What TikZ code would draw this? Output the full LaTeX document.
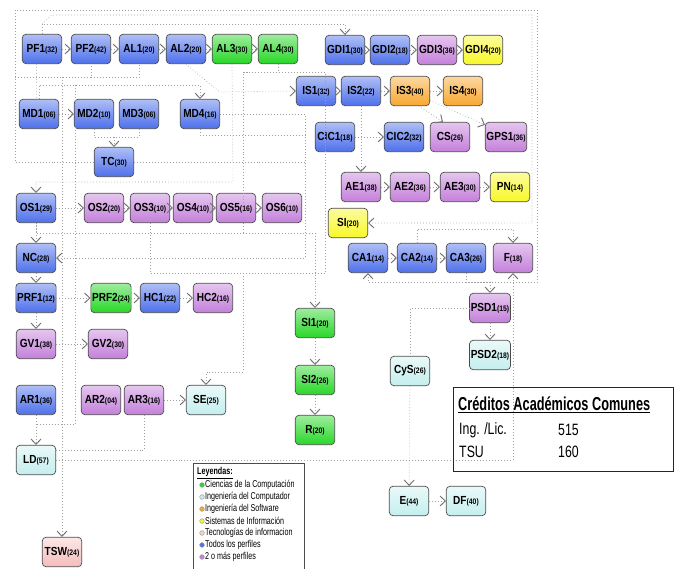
\documentclass[tikz,border=0pt]{standalone}
\usepackage{fontspec}
\setmainfont{Liberation Sans}
\usepackage{graphicx}
\definecolor{ucblue}{RGB}{78,112,235}
\definecolor{ucgreen}{RGB}{40,215,40}
\definecolor{ucviolet}{RGB}{196,128,218}
\definecolor{ucyellow}{RGB}{248,248,40}
\definecolor{ucorange}{RGB}{248,168,48}
\definecolor{uccyan}{RGB}{196,238,238}
\definecolor{ucpink}{RGB}{244,188,188}
\definecolor{ucpeach}{RGB}{246,214,180}
\usetikzlibrary{arrows.meta,positioning,calc}

\newcommand{\modlab}[2]{\scalebox{0.86}[1]{#1{\fontsize{6.8}{7}\selectfont(#2)}}}

\begin{document}
\begin{tikzpicture}[x=0.03cm,y=-0.03cm,
  course/.style={draw=black!70,line width=0.6pt,rounded corners=3pt,
    minimum width=1.18cm,minimum height=0.88cm,inner sep=1pt,
    font=\bfseries\fontsize{10}{11}\selectfont},
  cblue/.style={course,top color=ucblue!45!white,bottom color=ucblue},
  cgreen/.style={course,top color=ucgreen!45!white,bottom color=ucgreen},
  cviolet/.style={course,top color=ucviolet!45!white,bottom color=ucviolet},
  cyellow/.style={course,top color=ucyellow!45!white,bottom color=ucyellow},
  corange/.style={course,top color=ucorange!45!white,bottom color=ucorange},
  ccyan/.style={course,top color=uccyan!35!white,bottom color=uccyan},
  cpink/.style={course,top color=ucpink!35!white,bottom color=ucpink},
  link/.style={gray!75,dotted,line width=0.55pt,
    -{Straight Barb[length=4.5pt,width=8.5pt,line width=0.8pt,color=black!55]}},
  route/.style={gray!75,dotted,line width=0.55pt},
  legdot/.style={circle,draw=black!40,inner sep=0pt,minimum size=4pt},
  legtext/.style={anchor=west,inner sep=0pt,font=\fontsize{8.5}{9}\selectfont}
]
  \useasboundingbox (0,0) rectangle (679,569);

  % Row 1: PF / AL / GDI
  \node[cblue] (pf1) at (42,49) {\modlab{PF1}{32}};
  \node[cblue] (pf2) at (91,49) {\modlab{PF2}{42}};
  \node[cblue] (al1) at (139,49) {\modlab{AL1}{20}};
  \node[cblue] (al2) at (186,49) {\modlab{AL2}{20}};
  \node[cgreen] (al3) at (232,49) {\modlab{AL3}{30}};
  \node[cgreen] (al4) at (278,49) {\modlab{AL4}{30}};
  \node[cblue] (gdi1) at (345,50) {\modlab{GDI1}{30}};
  \node[cblue] (gdi2) at (390,50) {\modlab{GDI2}{18}};
  \node[cviolet] (gdi3) at (437,50) {\modlab{GDI3}{36}};
  \node[cyellow] (gdi4) at (483,50) {\modlab{GDI4}{20}};

  % MD / TC
  \node[cblue] (md1) at (39,114) {\modlab{MD1}{06}};
  \node[cblue] (md2) at (94,114) {\modlab{MD2}{10}};
  \node[cblue] (md3) at (139,114) {\modlab{MD3}{06}};
  \node[cblue] (md4) at (200,114) {\modlab{MD4}{16}};
  \node[cblue] (tc) at (114,162) {\modlab{TC}{30}};

  % Right block: IS / CIC / AE / CA
  \node[cblue] (is1) at (316,91) {\modlab{IS1}{32}};
  \node[cblue] (is2) at (361,91) {\modlab{IS2}{22}};
  \node[corange] (is3) at (410,91) {\modlab{IS3}{40}};
  \node[corange] (is4) at (463,91) {\modlab{IS4}{30}};
  \node[cblue] (cic1) at (335,137) {\modlab{CIC1}{18}};
  \node[cblue] (cic2) at (404,137) {\modlab{CIC2}{32}};
  \node[cviolet] (cs) at (450,137) {\modlab{CS}{26}};
  \node[cviolet] (gps1) at (506,137) {\modlab{GPS1}{36}};
  \node[cviolet] (ae1) at (361,187) {\modlab{AE1}{38}};
  \node[cviolet] (ae2) at (410,187) {\modlab{AE2}{36}};
  \node[cviolet] (ae3) at (460,187) {\modlab{AE3}{30}};
  \node[cyellow] (pn) at (510,187) {\modlab{PN}{14}};
  \node[cyellow] (si) at (348,223) {\modlab{SI}{20}};
  \node[cblue] (ca1) at (368,258) {\modlab{CA1}{14}};
  \node[cblue] (ca2) at (417,258) {\modlab{CA2}{14}};
  \node[cblue] (ca3) at (466,258) {\modlab{CA3}{26}};
  \node[cviolet] (f) at (513,258) {\modlab{F}{18}};
  \node[cviolet] (psd1) at (490,308) {\modlab{PSD1}{15}};
  \node[ccyan] (psd2) at (490,355) {\modlab{PSD2}{18}};
  \node[ccyan] (cys) at (410,371) {\modlab{CyS}{26}};
  \node[ccyan] (e) at (409,501) {\modlab{E}{44}};
  \node[ccyan] (df) at (466,501) {\modlab{DF}{40}};
  \node[cgreen] (si1) at (315,323) {\modlab{SI1}{20}};
  \node[cgreen] (si2) at (315,380) {\modlab{SI2}{26}};
  \node[cgreen] (r) at (315,430) {\modlab{R}{20}};

  % Left block: OS / NC / PRF / GV / AR
  \node[cblue] (os1) at (36,208) {\modlab{OS1}{29}};
  \node[cviolet] (os2) at (104,208) {\modlab{OS2}{20}};
  \node[cviolet] (os3) at (150,208) {\modlab{OS3}{10}};
  \node[cviolet] (os4) at (193,208) {\modlab{OS4}{10}};
  \node[cviolet] (os5) at (236,208) {\modlab{OS5}{16}};
  \node[cviolet] (os6) at (282,208) {\modlab{OS6}{10}};
  \node[cblue] (nc) at (36,258) {\modlab{NC}{28}};
  \node[cblue] (prf1) at (36,298) {\modlab{PRF1}{12}};
  \node[cgreen] (prf2) at (111,298) {\modlab{PRF2}{24}};
  \node[cblue] (hc1) at (160,298) {\modlab{HC1}{22}};
  \node[cviolet] (hc2) at (213,298) {\modlab{HC2}{16}};
  \node[cviolet] (gv1) at (36,344) {\modlab{GV1}{38}};
  \node[cviolet] (gv2) at (108,344) {\modlab{GV2}{30}};
  \node[cblue] (ar1) at (36,400) {\modlab{AR1}{36}};
  \node[cviolet] (ar2) at (101,400) {\modlab{AR2}{04}};
  \node[cviolet] (ar3) at (144,400) {\modlab{AR3}{16}};
  \node[ccyan] (se) at (206,400) {\modlab{SE}{25}};
  \node[ccyan] (ld) at (36,460) {\modlab{LD}{57}};
  \node[cpink] (tsw) at (62,552) {\modlab{TSW}{24}};

  % Junctions of the dotted routes
  \coordinate (jtop) at (42,24);
  \coordinate (jleft) at (15,77);
  \coordinate (jmd) at (39,85);
  \coordinate (jtc) at (114,137);
  \coordinate (jbus) at (243,72);
  \coordinate (jos) at (233,182);
  \coordinate (jsi) at (243,233);
  \coordinate (jmid) at (305,114);
  \coordinate (jmd4) at (305,135);
  \coordinate (jse) at (243,273);
  \coordinate (jar) at (75,424);
  \coordinate (jld) at (144,450);
  \coordinate (jf) at (513,229);
  \coordinate (jpsd) at (490,282);

  % Frames round the plan
  \draw[link] (tc.west) -- (15,162) -- (15,10) -- (537,10) -- (537,282) -| (ca1.south);
  \draw[link] (pf1.north) -- (jtop) -| (gdi1.north);
  \draw[link] (jtop) -- (52,15) -- (532,15) |- (si.east);

  % Straight chains
  \draw[link] (pf1) -- (pf2);
  \draw[link] (pf2) -- (al1);
  \draw[link] (al1) -- (al2);
  \draw[link] (al2) -- (al3);
  \draw[link] (al3) -- (al4);
  \draw[link] (gdi1) -- (gdi2);
  \draw[link] (gdi2) -- (gdi3);
  \draw[link] (gdi3) -- (gdi4);
  \draw[link] (is1) -- (is2);
  \draw[link] (is2) -- (is3);
  \draw[link] (is3) -- (is4);
  \draw[link] (is3.300) -- (cs.115);
  \draw[link] (is3.335) -- (gps1.150);
  \draw[link] (cic1) -- (cic2);
  \draw[link] (is2) -- (ae1);
  \draw[link] (ae1) -- (ae2);
  \draw[link] (ae2) -- (ae3);
  \draw[link] (ae3) -- (pn);
  \draw[link] (ca1) -- (ca2);
  \draw[link] (ca2) -- (ca3);
  \draw[link] (ca2.north) |- (jf) -- (f.north);
  \draw[link] (ca3.south) |- (jpsd) -- (psd1.north);
  \draw[link] (psd1) -- (psd2);
  \draw[route] (psd1.west) -| (cys.north);
  \draw[link] (cys) -- (e);
  \draw[link] (e) -- (df);
  \draw[link] (si1) -- (si2);
  \draw[link] (si2) -- (r);
  \draw[link] (md1) -- (md2);
  \draw[route] (md2.south) |- (jtc);
  \draw[route] (md3.south) |- (jtc);
  \draw[link] (jtc) -- (tc.north);
  \draw[link] (os1) -- (os2);
  \draw[link] (os2) -- (os3);
  \draw[link] (os3) -- (os4);
  \draw[link] (os4) -- (os5);
  \draw[link] (os5) -- (os6);
  \draw[link] (os1) -- (nc);
  \draw[link] (nc) -- (prf1);
  \draw[link] (prf1) -- (prf2);
  \draw[link] (prf2) -- (hc1);
  \draw[link] (hc1) -- (hc2);
  \draw[link] (prf1) -- (gv1);
  \draw[link] (gv1) -- (gv2);
  \draw[link] (ar3) -- (se);
  \draw[link] (ar1) -- (ld);

  % Long dotted routes
  \draw[route] (pf1.250) -- (md1.100);
  \draw[route] (jleft) -| (pf2.south);
  \draw[route] (pf2.south |- jleft) -| (al1.south);
  \draw[link] (jleft -| tsw.north) -- (tsw.north);
  \draw[link] (md1.north) -- (jmd) -| (md4.north);
  \draw[route] (jmd -| jar) -- (jar) -- (jar -| ar1.south);
  \draw[link] (al2.south) -- ++(14,12) -- ++(20,16) -- (is1.west);
  \draw[link] (al3.south) -- (jos) -| (os1.north);
  \draw[route] (al4.south) |- (jbus) -- (jsi) -| (os1.south);
  \draw[link] (jsi) -| (si1.north);
  \draw[link] (md4.east) -- (jmid) |- (nc.east);
  \draw[route] (tc.east) -- (tc.east -| jmid);
  \draw[route] (md4.south) |- (jmd4);
  \draw[link] (os3.south) |- (jse) -- (243,372) -| (se.north);
  \draw[route] (jse) -- (325,273) -- (325,72) -- (jbus);
  \draw[route] (ar3.south) -- (jld) -- (jld -| ld.east);
  \draw[link] (ld.east) -| (f.south);

  % Legend
  \node[draw=black!70,line width=0.6pt,minimum width=3.33cm,minimum height=3.4cm]
    (legbox) at (248.5,520) {};
  \node[legtext,font=\bfseries\fontsize{8.5}{9}\selectfont] (legtitle) at (197,473)
    {\scalebox{0.72}[1]{\underline{Leyendas:}}};
  \node[legdot,fill=ucgreen] (dot1) at (202,485) {};
  \node[legtext] (leg1) at (205,485) {\scalebox{0.72}[1]{Ciencias de la Computación}};
  \node[legdot,fill=uccyan] (dot2) at (202,497) {};
  \node[legtext] (leg2) at (205,497) {\scalebox{0.72}[1]{Ingeniería del Computador}};
  \node[legdot,fill=ucorange] (dot3) at (202,509) {};
  \node[legtext] (leg3) at (205,509) {\scalebox{0.72}[1]{Ingeniería del Software}};
  \node[legdot,fill=ucyellow] (dot4) at (202,521) {};
  \node[legtext] (leg4) at (205,521) {\scalebox{0.72}[1]{Sistemas de Información}};
  \node[legdot,fill=ucpeach] (dot5) at (202,533) {};
  \node[legtext] (leg5) at (205,533) {\scalebox{0.72}[1]{Tecnologías de informacion}};
  \node[legdot,fill=ucblue] (dot6) at (202,545) {};
  \node[legtext] (leg6) at (205,545) {\scalebox{0.72}[1]{Todos los perfiles}};
  \node[legdot,fill=ucviolet] (dot7) at (202,557) {};
  \node[legtext] (leg7) at (205,557) {\scalebox{0.72}[1]{2 o más perfiles}};

  % Common credits
  \node[draw=black!85,line width=0.8pt,minimum width=6.6cm,minimum height=2.52cm]
    (credbox) at (563,429) {};
  \node[anchor=west,inner sep=0pt,font=\bfseries\fontsize{16}{18}\selectfont]
    (credtitle) at (458,405) {\scalebox{0.68}[1]{\underline{Créditos Académicos Comunes}}};
  \node[anchor=west,inner sep=0pt,font=\fontsize{14}{16}\selectfont]
    (credeng) at (459,430) {\scalebox{0.75}[1]{Ing. /Lic.}};
  \node[anchor=west,inner sep=0pt,font=\fontsize{14}{16}\selectfont]
    (credengv) at (558,430) {\scalebox{0.75}[1]{515}};
  \node[anchor=west,inner sep=0pt,font=\fontsize{14}{16}\selectfont]
    (credtsu) at (459,452) {\scalebox{0.75}[1]{TSU}};
  \node[anchor=west,inner sep=0pt,font=\fontsize{14}{16}\selectfont]
    (credtsuv) at (558,452) {\scalebox{0.75}[1]{160}};
\end{tikzpicture}
\end{document}
